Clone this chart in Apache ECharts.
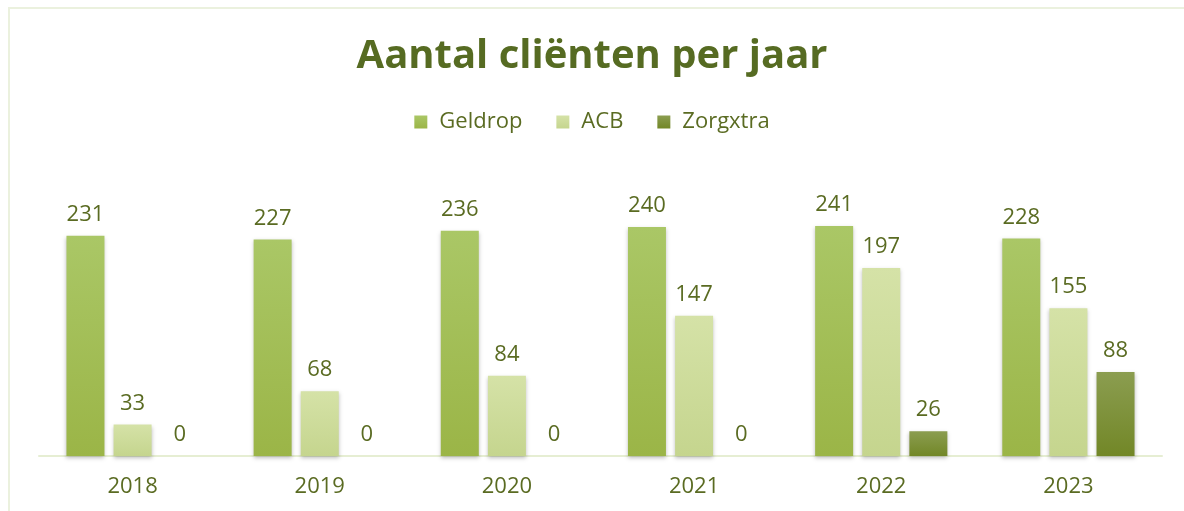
<!DOCTYPE html>
<html>
<head>
  <meta charset="UTF-8">
  <title>Aantal cliënten per jaar</title>
  <script src="https://cdn.jsdelivr.net/npm/echarts@6/dist/echarts.min.js"></script>
  <style>
    html, body { margin: 0; padding: 0; background: #fff; }
    #frame {
      position: absolute;
      left: 8px; top: 7px;
      width: 1200px; height: 520px;
      border: 2px solid #ebf1de;
      box-sizing: border-box;
    }
    #chart { position: absolute; left: 0; top: 0; width: 1184px; height: 511px; }
  </style>
</head>
<body>
  <div id="frame"></div>
  <div id="chart"></div>
  <script>
    const years = ['2018', '2019', '2020', '2021', '2022', '2023']
    const geldrop = [231, 227, 236, 240, 241, 228]
    const acb = [33, 68, 84, 147, 197, 155]
    const zorgxtra = [0, 0, 0, 0, 26, 88]

    const textColor = '#5a6b22'
    const font = '"Open Sans", sans-serif'

    function grad(top, bottom) {
      return new echarts.graphic.LinearGradient(0, 0, 0, 1, [
        { offset: 0, color: top },
        { offset: 1, color: bottom }
      ])
    }

    function bar(name, data, top, bottom) {
      return {
        name: name,
        type: 'bar',
        data: data,
        barWidth: 38,
        barGap: '24%',
        itemStyle: {
          color: grad(top, bottom),
          shadowColor: 'rgba(0,0,0,0.25)',
          shadowBlur: 4,
          shadowOffsetY: 2
        },
        label: {
          show: true,
          position: 'top',
          distance: 10,
          color: textColor,
          fontFamily: font,
          fontSize: 22
        }
      }
    }

    const myChart = echarts.init(document.querySelector('#chart'))
    const option = {
      animation: false,
      title: {
        text: 'Aantal cliënten per jaar',
        left: 'center',
        top: 32,
        textStyle: {
          color: '#566b22',
          fontFamily: font,
          fontWeight: 'bold',
          fontSize: 40
        }
      },
      legend: {
        top: 106,
        left: 'center',
        itemWidth: 13,
        itemHeight: 13,
        itemGap: 34,
        icon: 'rect',
        textStyle: { color: textColor, fontFamily: font, fontSize: 22, padding: [0, 0, 0, 7] },
        data: ['Geldrop', 'ACB', 'Zorgxtra']
      },
      grid: { left: 39, right: 22, top: 217.5, bottom: 55 },
      xAxis: {
        type: 'category',
        data: years,
        axisLine: { lineStyle: { color: '#e6eed3', width: 2 } },
        axisTick: { show: false },
        axisLabel: { color: textColor, fontFamily: font, fontSize: 22, margin: 20 }
      },
      yAxis: {
        type: 'value',
        min: 0,
        max: 250,
        show: false,
        splitLine: { show: false }
      },
      series: [
        bar('Geldrop', geldrop, '#aac766', '#9bb547'),
        bar('ACB', acb, '#d5e2a7', '#c5d58e'),
        bar('Zorgxtra', zorgxtra, '#8b9d50', '#728727')
      ]
    }
    myChart.setOption(option)
  </script>
</body>
</html>
